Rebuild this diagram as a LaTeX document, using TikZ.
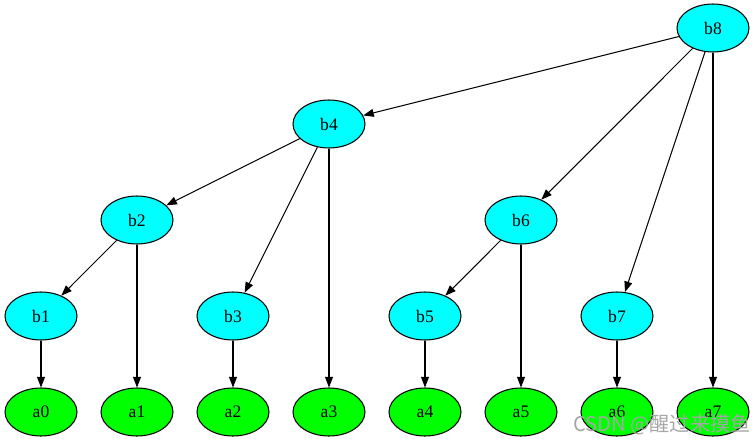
\documentclass[tikz,border=0pt]{standalone}
\usepackage{fontspec}
\setmainfont{Liberation Serif}
\newfontfamily\cjkfont{Noto Sans CJK SC}
\usetikzlibrary{shapes.geometric,arrows.meta}

\definecolor{nodecyan}{RGB}{0,255,255}
\definecolor{leafgreen}{RGB}{0,255,0}

\tikzset{
    inner/.style={ellipse, draw, line width=0.6pt, fill=nodecyan, minimum width=1.44cm, minimum height=0.96cm, inner sep=0pt, font=\fontsize{10}{11}\selectfont},
    leaf/.style={inner, fill=leafgreen},
    edge/.style={-{Triangle[length=6pt,width=4.5pt]}, line width=0.6pt, black}
}

\begin{document}
\begin{tikzpicture}[x=0.02cm, y=-0.02cm]

    \useasboundingbox (0,0) rectangle (755,443);

    %inner nodes
    \node[inner] (b8) at (713,28) {b8};
    \node[inner] (b4) at (329,124) {b4};
    \node[inner] (b2) at (137,220) {b2};
    \node[inner] (b6) at (521,220) {b6};
    \node[inner] (b1) at (41,316) {b1};
    \node[inner] (b3) at (233,316) {b3};
    \node[inner] (b5) at (425,316) {b5};
    \node[inner] (b7) at (617,316) {b7};

    %leaves
    \foreach \i in {0,...,7}
    \node[leaf] (a\i) at ({41+96*\i},412) {a\i};

    %edges
    \foreach \s/\t in {b8/b4,b8/b6,b8/b7,b8/a7,b4/b2,b4/b3,b4/a3,b2/b1,b2/a1,b6/b5,b6/a5,b1/a0,b3/a2,b5/a4,b7/a6}{
    	\draw[edge] (\s) -- (\t);
    }

    %watermark
    \node[text=gray!70, font=\cjkfont\fontsize{11.5}{12}\selectfont, anchor=east, inner sep=0pt] (wm) at (751,425) {CSDN @醒过来摸鱼};

\end{tikzpicture}
\end{document}
